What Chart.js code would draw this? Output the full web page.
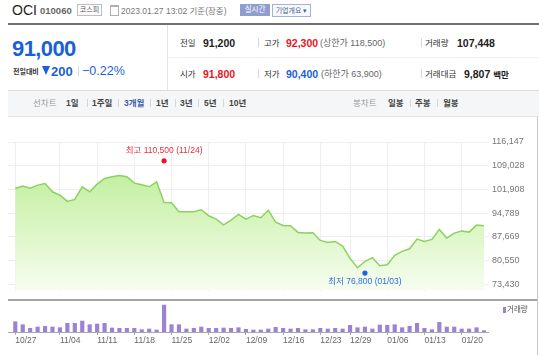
<!DOCTYPE html>
<html><head><meta charset="utf-8">
<script src="https://cdn.jsdelivr.net/npm/chart.js@4"></script>
<style>
html,body{margin:0;padding:0;background:#fff;width:539px;height:355px;overflow:hidden;position:relative;font-family:'Liberation Sans',Arial,'Noto Sans CJK KR',sans-serif;}
.a{position:absolute;white-space:nowrap;line-height:1;transform:translateY(-50%);}
.b{position:absolute;}
.k{font-size:8.5px;color:#333;}
.n{font-size:10.5px;font-weight:bold;color:#222;}
.g{font-size:9px;color:#666;}
.sep{position:absolute;width:1px;background:#d8d8d8;}
.tab{font-size:8.5px;font-weight:bold;color:#444;}
.red{color:#e8141e;}
.blue{color:#1b5fd8;}
canvas{position:absolute;left:0;}
</style></head>
<body>
<!-- title row -->
<span class="a" style="left:12px;top:10px;font-size:14px;color:#1e1e1e;">OCI</span>
<span class="a" style="left:40px;top:11px;font-size:9.5px;font-weight:bold;color:#666;">010060</span>
<div class="b" style="left:77px;top:4px;width:23px;height:10px;border:1px solid #bdbdbd;font-size:7px;line-height:10px;text-align:center;color:#555;">코스피</div>
<div class="b" style="left:110px;top:5px;width:7px;height:8px;border:1px solid #b0b0b0;border-top:2px solid #b0b0b0;"></div>
<span class="a" style="left:121px;top:10.5px;font-size:8.5px;color:#777;">2023.01.27 13:02 기준(장중)</span>
<div class="b" style="left:240px;top:4px;width:30px;height:12px;background:#8f9dcf;font-size:7.5px;line-height:12px;text-align:center;color:#fff;">실시간</div>
<div class="b" style="left:272px;top:4px;width:37px;height:11px;border:1px solid #a8b2d8;background:#f8f9fd;font-size:7px;line-height:11px;text-align:center;color:#4b5d9c;">기업개요 ▾</div>
<div class="b" style="left:8px;top:23px;width:531px;height:2px;background:#707070;"></div>

<!-- info box -->
<div class="b" style="left:167px;top:25px;width:1px;height:65px;background:#e3e3e3;"></div>
<div class="b" style="left:168px;top:57px;width:371px;height:1px;background:#eeeeee;"></div>
<span class="a blue" style="left:12px;top:49px;font-size:22px;font-weight:bold;letter-spacing:-0.6px;">91,000</span>
<span class="a" style="left:13px;top:71px;font-size:7px;font-weight:bold;color:#333;">전일대비</span>
<div class="b" style="left:42px;top:66px;width:0;height:0;border-left:4.5px solid transparent;border-right:4.5px solid transparent;border-top:9px solid #1b5fd8;"></div>
<span class="a blue" style="left:51px;top:71px;font-size:13px;font-weight:bold;">200</span>
<div class="sep" style="left:78px;top:66px;height:10px;"></div>
<span class="a blue" style="left:82px;top:71px;font-size:12.5px;">−0.22%</span>

<span class="a k" style="left:180px;top:42.5px;">전일</span>
<span class="a n" style="left:203px;top:42.5px;">91,200</span>
<div class="sep" style="left:258px;top:38px;height:9px;"></div>
<span class="a k" style="left:264px;top:42.5px;">고가</span>
<span class="a n red" style="left:286px;top:42.5px;">92,300</span>
<span class="a g" style="left:320px;top:42.5px;">(상한가 118,500)</span>
<div class="sep" style="left:421px;top:38px;height:9px;"></div>
<span class="a k" style="left:425px;top:42.5px;">거래량</span>
<span class="a n" style="left:457px;top:42.5px;">107,448</span>

<span class="a k" style="left:180px;top:73.5px;">시가</span>
<span class="a n red" style="left:203px;top:73.5px;">91,800</span>
<div class="sep" style="left:258px;top:69px;height:9px;"></div>
<span class="a k" style="left:264px;top:73.5px;">저가</span>
<span class="a n blue" style="left:286px;top:73.5px;">90,400</span>
<span class="a g" style="left:321px;top:73.5px;">(하한가 63,900)</span>
<div class="sep" style="left:421px;top:69px;height:9px;"></div>
<span class="a k" style="left:425px;top:73.5px;">거래대금</span>
<span class="a n" style="left:464px;top:73.5px;">9,807 <span style="font-size:8.5px;">백만</span></span>

<!-- tab row -->
<div class="b" style="left:8px;top:90px;width:531px;height:25px;background:#f5f6f8;border-top:1px solid #dcdcdc;border-bottom:1px solid #e2e2e2;"></div>
<span class="a" style="left:33px;top:103px;font-size:8.5px;color:#999;">선차트</span>
<span class="a tab" style="left:66px;top:103px;">1일</span>
<div class="sep" style="left:87px;top:99px;height:8px;"></div>
<span class="a tab" style="left:92px;top:103px;">1주일</span>
<div class="sep" style="left:118px;top:99px;height:8px;"></div>
<span class="a tab" style="left:124px;top:103px;color:#4060a8;">3개월</span>
<div class="sep" style="left:150px;top:99px;height:8px;"></div>
<span class="a tab" style="left:156px;top:103px;">1년</span>
<div class="sep" style="left:175px;top:99px;height:8px;"></div>
<span class="a tab" style="left:180px;top:103px;">3년</span>
<div class="sep" style="left:198px;top:99px;height:8px;"></div>
<span class="a tab" style="left:204px;top:103px;">5년</span>
<div class="sep" style="left:223px;top:99px;height:8px;"></div>
<span class="a tab" style="left:229px;top:103px;">10년</span>
<span class="a" style="left:353px;top:103px;font-size:8.5px;color:#999;">봉차트</span>
<span class="a tab" style="left:388px;top:103px;">일봉</span>
<div class="sep" style="left:410px;top:99px;height:8px;"></div>
<span class="a tab" style="left:415px;top:103px;">주봉</span>
<div class="sep" style="left:437px;top:99px;height:8px;"></div>
<span class="a tab" style="left:443px;top:103px;">월봉</span>

<!-- charts -->
<canvas id="price" width="539" height="183" style="top:117px;"></canvas>
<canvas id="vol" width="539" height="55" style="top:300px;"></canvas>
<div class="b" style="left:8px;top:299px;width:530px;height:2px;background:#a3a3a3;"></div>
<div class="b" style="left:537px;top:117px;width:1px;height:238px;background:#c9c9c9;"></div>
<div class="b" style="left:503px;top:307px;width:2.5px;height:6px;background:#9b82d3;"></div>
<span class="a" style="left:507px;top:310px;font-size:7.5px;color:#555;">거래량</span>

<script>
const dates = ['10/27','10/28','10/31','11/01','11/02','11/03','11/04','11/07','11/08','11/09',
  '11/10','11/11','11/14','11/15','11/16','11/17','11/18','11/21','11/22','11/23',
  '11/24','11/25','11/28','11/29','11/30','12/01','12/02','12/05','12/06','12/07',
  '12/08','12/09','12/12','12/13','12/14','12/15','12/16','12/19','12/20','12/21',
  '12/22','12/23','12/26','12/27','12/28','12/29','01/02','01/03','01/04','01/05',
  '01/06','01/09','01/10','01/11','01/12','01/13','01/16','01/17','01/18','01/19',
  '01/20','01/25','01/26','01/27'];
const closePrices = [102200,102900,102300,103200,103700,101200,100200,98300,98900,102700,
  101200,103500,105200,105700,106100,105700,103800,103300,102700,104200,
  98000,97900,95200,95200,95200,95800,94000,93000,91300,92700,
  94400,93000,94100,93400,95700,92100,91100,91000,89000,88800,
  88900,86600,86000,86300,84900,81200,78400,80300,81400,79000,
  79300,82100,83300,84100,87000,86300,86900,89900,87300,88800,
  89400,89100,91200,91000];
const volumes = [837000,594000,297000,405000,459000,405000,351000,702000,702000,891000,
  594000,648000,702000,324000,297000,297000,297000,189000,243000,162000,
  2187000,594000,594000,243000,297000,405000,297000,297000,324000,297000,
  351000,216000,162000,162000,243000,378000,297000,243000,297000,189000,
  189000,297000,243000,297000,243000,540000,351000,405000,243000,567000,
  540000,594000,351000,459000,702000,297000,189000,783000,405000,405000,
  243000,243000,351000,107448];
const priceTicks = [116147,109028,101908,94789,87669,80550,73430];
const dateTicks = ['10/27','11/04','11/11','11/18','11/25','12/02','12/09','12/16','12/23','12/29','01/06','01/13','01/20'];
const highPrice = 110500, highDate = '11/24';
const lowPrice = 76800, lowDate = '01/03';

const FONT = "'Liberation Sans','Noto Sans CJK KR',sans-serif";
const tickIdx = dateTicks.map(d => dates.indexOf(d));
const X_MIN = -0.98, X_MAX = 63.54;
const fmt = v => Number(v).toLocaleString('en-US');

const markerLabels = {
  id: 'markerLabels',
  afterDatasetsDraw(chart) {
    const meta = chart.getDatasetMeta(1);
    const ctx = chart.ctx;
    const hp = meta.data[0], lp = meta.data[1];
    ctx.save();
    ctx.font = '8.5px ' + FONT;
    ctx.textAlign = 'center';
    ctx.textBaseline = 'middle';
    ctx.fillStyle = '#e8323c';
    ctx.fillText('최고 ' + fmt(highPrice) + ' (' + highDate + ')', hp.x, hp.y - 10.5);
    ctx.fillStyle = '#2a72d8';
    ctx.fillText('최저 ' + fmt(lowPrice) + ' (' + lowDate + ')', lp.x, lp.y + 8.5);
    ctx.restore();
  }
};

new Chart(document.getElementById('price'), {
  type: 'line',
  data: {
    datasets: [
      {
        type: 'line',
        data: closePrices.map((v, i) => ({x: i, y: v})),
        borderColor: '#8ad35e',
        borderWidth: 1.5,
        pointRadius: 0,
        tension: 0,
        fill: 'start',
        order: 2,
        backgroundColor: (c) => {
          const area = c.chart.chartArea;
          if (!area) return '#d8f5c0';
          const g = c.chart.ctx.createLinearGradient(0, area.top, 0, area.bottom);
          g.addColorStop(0, '#b5eb8c');
          g.addColorStop(0.6, '#dcf6c6');
          g.addColorStop(1, '#f7fdf1');
          return g;
        }
      },
      {
        type: 'scatter',
        data: [{x: dates.indexOf(highDate), y: highPrice}, {x: dates.indexOf(lowDate), y: lowPrice}],
        pointRadius: 2.6,
        pointBackgroundColor: ['#f3101e', '#1668dc'],
        pointBorderWidth: 0,
        order: 1
      }
    ]
  },
  options: {
    responsive: false, animation: false, events: [],
    layout: {padding: {left: 8, top: 25, right: 0, bottom: 0}},
    plugins: {legend: {display: false}, tooltip: {enabled: false}},
    scales: {
      x: {
        type: 'linear', min: X_MIN, max: X_MAX,
        afterBuildTicks: s => { s.ticks = tickIdx.map(v => ({value: v})); },
        ticks: {display: false},
        grid: {color: '#eeeeee', drawTicks: false},
        border: {display: false},
        afterFit: s => { s.height = 0; }
      },
      y: {
        position: 'right', min: 71534, max: 116147,
        afterBuildTicks: s => { s.ticks = priceTicks.map(v => ({value: v})); },
        ticks: {font: {family: FONT, size: 9}, color: '#777', padding: 4, callback: v => fmt(v)},
        grid: {color: '#eeeeee', drawTicks: false},
        border: {display: false},
        afterFit: s => { s.width = 51; }
      }
    }
  },
  plugins: [markerLabels]
});

new Chart(document.getElementById('vol'), {
  type: 'bar',
  data: {
    datasets: [{
      data: volumes.map((v, i) => ({x: i, y: v})),
      backgroundColor: '#9b82d3',
      barThickness: 3.5,
      borderWidth: 0
    }]
  },
  options: {
    responsive: false, animation: false, events: [],
    layout: {padding: {left: 8, top: 0, right: 0, bottom: 0}},
    plugins: {legend: {display: false}, tooltip: {enabled: false}},
    scales: {
      x: {
        type: 'linear', min: X_MIN, max: X_MAX, offset: false,
        afterBuildTicks: s => { s.ticks = tickIdx.map(v => ({value: v})); },
        grid: {display: true, offset: false, drawOnChartArea: false, drawTicks: true, tickLength: 3, color: '#aaaaaa'},
        border: {display: true, color: '#aaaaaa'},
        ticks: {align: 'start', autoSkip: false, maxRotation: 0, font: {family: FONT, size: 8.5}, color: '#666', padding: 1,
          callback: v => dates[v]},
        afterFit: s => { s.height = 23; }
      },
      y: {
        position: 'right', min: 0, max: 2600000,
        ticks: {display: false},
        grid: {display: false},
        border: {display: false},
        afterFit: s => { s.width = 51; }
      }
    }
  }
});
</script>
</body></html>
